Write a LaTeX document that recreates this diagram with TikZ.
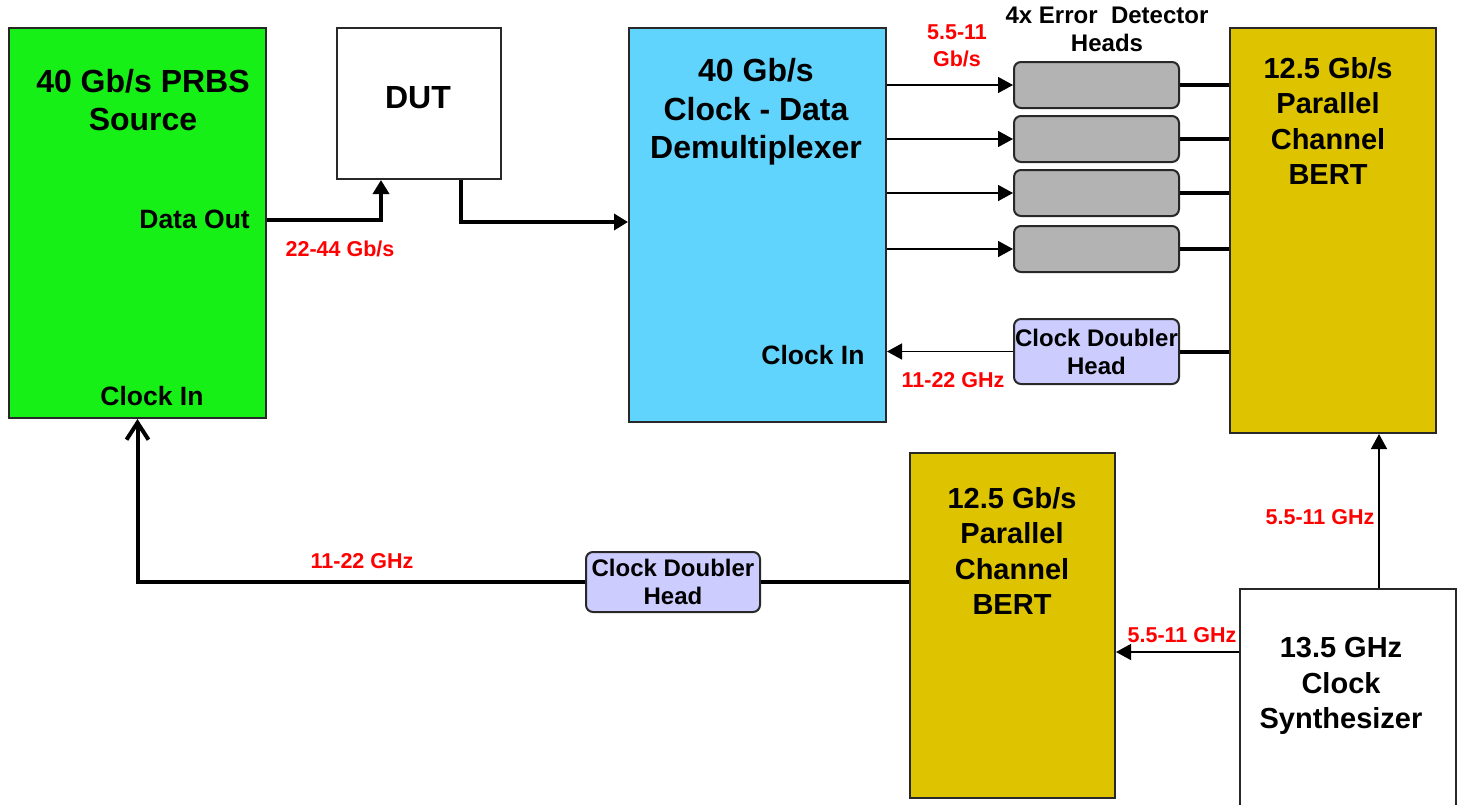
\documentclass[tikz,border=0pt]{standalone}
\usepackage{fontspec}
\setmainfont{Liberation Sans}
\usetikzlibrary{arrows.meta}
\definecolor{prbsgreen}{RGB}{22,240,22}
\definecolor{demuxblue}{RGB}{96,212,252}
\definecolor{bertyellow}{RGB}{222,196,0}
\definecolor{headgray}{RGB}{179,179,179}
\definecolor{cdhblue}{RGB}{204,204,255}
\definecolor{rateRed}{RGB}{255,0,0}
\definecolor{edgecol}{RGB}{40,40,40}
\tikzset{
  box/.style={draw=edgecol, line width=2pt, anchor=north west, inner sep=0pt},
  headbox/.style={box, rounded corners=7pt, fill=headgray},
  cdhbox/.style={box, rounded corners=7pt, fill=cdhblue},
  bigtxt/.style={font=\bfseries\fontsize{32}{38.5}\selectfont, align=center, inner sep=0pt},
  berttxt/.style={font=\bfseries\fontsize{29}{35.5}\selectfont, align=center, inner sep=0pt},
  midtxt/.style={font=\bfseries\fontsize{26.5}{30}\selectfont, align=center, inner sep=0pt},
  smalltxt/.style={font=\bfseries\fontsize{24}{28}\selectfont, align=center, inner sep=0pt},
  ratetxt/.style={font=\bfseries\fontsize{21.5}{27}\selectfont, text=rateRed, align=center, inner sep=0pt},
  thinarrow/.style={line width=1.5pt, -{Triangle[length=15pt,width=16pt]}},
  thickline/.style={line width=4pt},
  thickarrow/.style={line width=4pt, -{Triangle[length=14pt,width=16pt]}},
  openarrow/.style={line width=4pt, -{Straight Barb[length=17pt,width=22pt]}}
}
\begin{document}
\begin{tikzpicture}[x=1pt,y=-1pt]
\useasboundingbox (0,0) rectangle (1461,804);
\fill[white] (0,0) rectangle (1461,804);

% boxes
\node[box, fill=prbsgreen, minimum width=257pt, minimum height=390pt] (prbs) at (8,27) {};
\node[box, fill=white, minimum width=164pt, minimum height=151pt] (dut) at (336,27) {};
\node[box, fill=demuxblue, minimum width=257pt, minimum height=394pt] (demux) at (628,27) {};
\node[headbox, minimum width=165pt, minimum height=46pt] (h1) at (1013,61) {};
\node[headbox, minimum width=165pt, minimum height=46pt] (h2) at (1013,115) {};
\node[headbox, minimum width=165pt, minimum height=46pt] (h3) at (1013,169) {};
\node[headbox, minimum width=165pt, minimum height=46pt] (h4) at (1013,225) {};
\node[box, fill=bertyellow, minimum width=206pt, minimum height=405pt] (bert1) at (1229,27) {};
\node[cdhbox, minimum width=165pt, minimum height=65pt] (cdh1) at (1013,318) {};
\node[box, fill=bertyellow, minimum width=205pt, minimum height=345pt] (bert2) at (909,452) {};
\node[box, fill=white, minimum width=216pt, minimum height=240pt] (synth) at (1239,588) {};
\node[cdhbox, minimum width=174pt, minimum height=60pt] (cdh2) at (585,551) {};

% texts
\node[bigtxt] (prbstxt) at (143,100) {40 Gb/s PRBS\\Source};
\node[midtxt, anchor=east] (dataout) at (250,219) {Data Out};
\node[midtxt] (prbsclk) at (152,396) {Clock In};
\node[bigtxt] (duttxt) at (418,98) {DUT};
\node[bigtxt] (demuxtxt) at (756,112) {40 Gb/s\\Clock - Data\\Demultiplexer};
\node[midtxt] (demuxclk) at (813,355) {Clock In};
\node[smalltxt] (edtxt) at (1107,29) {4x Error\ \ Detector\\Heads};
\node[ratetxt] (rate1) at (957,46) {5.5-11\\Gb/s};
\node[berttxt] (bert1txt) at (1328,121) {12.5 Gb/s\\Parallel\\Channel\\BERT};
\node[berttxt] (bert2txt) at (1012,551) {12.5 Gb/s\\Parallel\\Channel\\BERT};
\node[berttxt] (synthtxt) at (1341,686) {13.5 GHz\\Clock\\Synthesizer};
\node[smalltxt] (cdh1txt) at (cdh1.center) {Clock Doubler\\Head};
\node[smalltxt] (cdh2txt) at (cdh2.center) {Clock Doubler\\Head};
\node[ratetxt] (rate2) at (340,249) {22-44 Gb/s};
\node[ratetxt] (rate3) at (953,380) {11-22 GHz};
\node[ratetxt] (rate4) at (362,561) {11-22 GHz};
\node[ratetxt] (rate5) at (1320,517) {5.5-11 GHz};
\node[ratetxt] (rate6) at (1182,635) {5.5-11 GHz};

% connectors
\draw[thickarrow] (prbs.east |- 0,220) -| ([xshift=-38pt]dut.south);
\draw[thickarrow] ([xshift=42pt]dut.south) |- (demux.west |- 0,222);
\foreach \h in {h1,h2,h3,h4}{
  \draw[thinarrow] (demux.east |- \h.west) -- (\h.west);
  \draw[thickline] (\h.east) -- (bert1.west |- \h.east);
}
\draw[thinarrow] (cdh1.west) -- (demux.east |- cdh1.west);
\draw[thickline] (cdh1.east) -- (bert1.west |- cdh1.east);
\draw[thinarrow] ([xshift=31pt]synth.north) -- ([xshift=31pt]synth.north |- bert1.south);
\draw[thinarrow] (synth.west |- 0,652) -- (bert2.east |- 0,652);
\draw[thickline] (bert2.west |- cdh2.east) -- (cdh2.east);
\draw[openarrow] (cdh2.west) -| (prbs.south);
\end{tikzpicture}
\end{document}
